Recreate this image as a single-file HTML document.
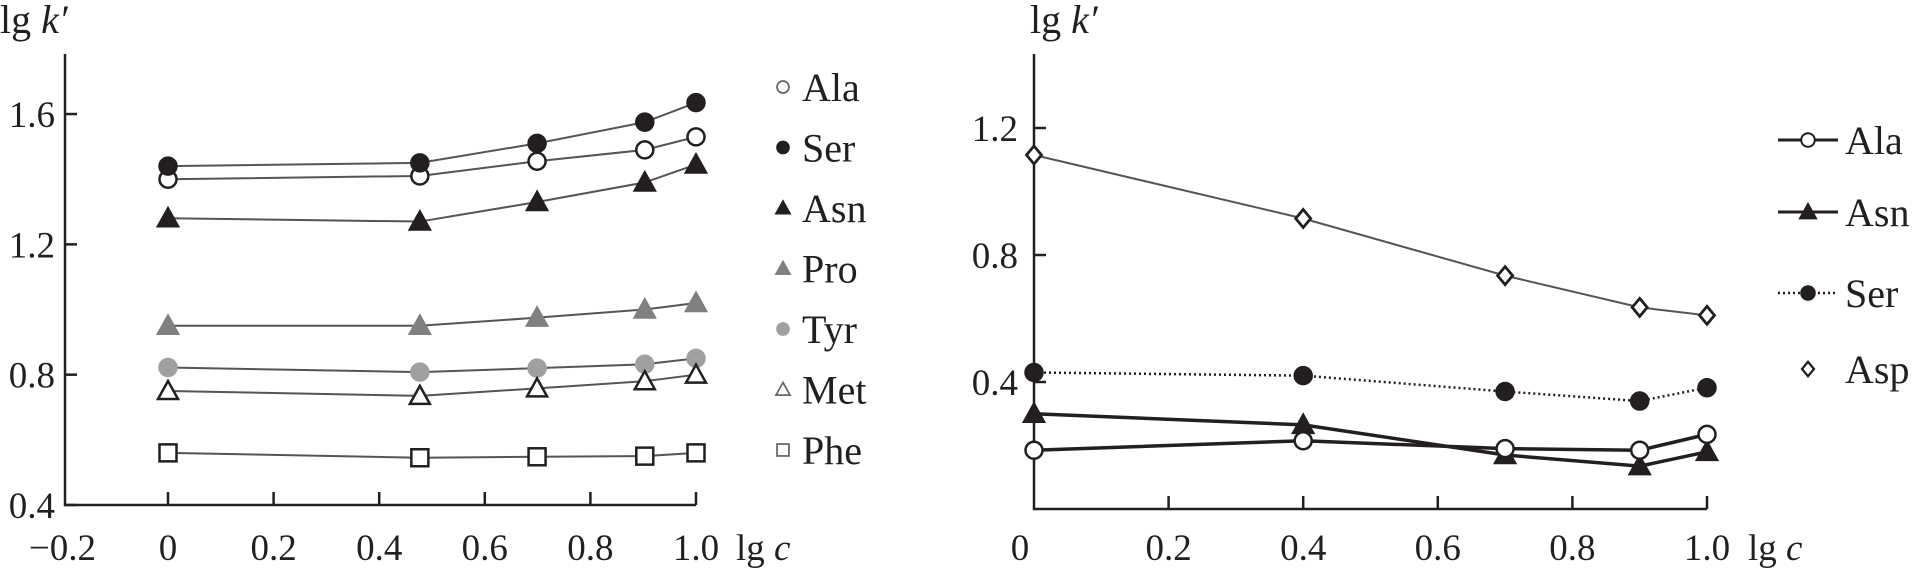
<!DOCTYPE html>
<html><head><meta charset="utf-8"><style>
body{margin:0;background:#fff;width:1912px;height:570px;overflow:hidden}
svg text{font-family:"Liberation Serif",serif;font-size:37px;fill:#231f20}
svg text.leg{font-size:40px}
</style></head><body>
<svg id="c" width="1912" height="570" xmlns="http://www.w3.org/2000/svg"></svg>
<script>
const xsL=[0,0.477,0.699,0.903,1.0];
const alaL=[1.40,1.41,1.455,1.49,1.53];
const serL=[1.44,1.45,1.51,1.575,1.635];
const asnL=[1.28,1.27,1.33,1.39,1.445];
const proL=[0.95,0.95,0.975,1.0,1.02];
const tyrL=[0.822,0.808,0.82,0.832,0.85];
const metL=[0.75,0.735,0.758,0.78,0.80];
const pheL=[0.56,0.545,0.548,0.55,0.56];
const xsR=[0.0,0.4,0.7,0.9,1.0];
const aspR=[1.115,0.915,0.735,0.635,0.61];
const serR=[0.43,0.42,0.37,0.34,0.382];
const asnR=[0.30,0.265,0.17,0.135,0.18];
const alaR=[0.185,0.215,0.19,0.185,0.235];
const xTicksL=[-0.2,0,0.2,0.4,0.6,0.8,1.0];
const xTickLabelsL=["\u22120.2","0","0.2","0.4","0.6","0.8","1.0"];
const yTicksL=[0.4,0.8,1.2,1.6];
const yTickLabelsL=["0.4","0.8","1.2","1.6"];
const xTicksR=[0,0.2,0.4,0.6,0.8,1.0];
const xTickLabelsR=["0","0.2","0.4","0.6","0.8","1.0"];
const yTicksR=[0.4,0.8,1.2];
const yTickLabelsR=["0.4","0.8","1.2"];

const NS="http://www.w3.org/2000/svg";
const svg=document.getElementById('c');
function mk(tag,attrs,parent){const e=document.createElementNS(NS,tag);for(const k in attrs)e.setAttribute(k,attrs[k]);(parent||svg).appendChild(e);return e;}
function txt(s,x,y,anchor,parent,cls){const t=mk('text',{x:x,y:y,'text-anchor':anchor||'start'},parent);if(cls)t.setAttribute('class',cls);t.innerHTML=s;return t;}

const xL=v=>168+(v-0)*528;
const yL=v=>505-(v-0.4)*325.8;
const xR=v=>1034+v*673;
const yR=v=>509-v*317.5;

function marker(g,type,x,y,fill,stroke){
  let e;
  if(type==='circle'){e=mk('circle',{cx:x,cy:y,r:8.5,fill:fill,stroke:stroke,'stroke-width':2.5},g);}
  else if(type==='tri'){e=mk('polygon',{points:`${x},${y-10} ${x-10},${y+8} ${x+10},${y+8}`,fill:fill,stroke:stroke,'stroke-width':2.5},g);}
  else if(type==='square'){e=mk('rect',{x:x-8.5,y:y-8.5,width:17,height:17,fill:fill,stroke:stroke,'stroke-width':2.5},g);}
  else if(type==='diamond'){e=mk('polygon',{points:`${x},${y-9} ${x+7.5},${y} ${x},${y+9} ${x-7.5},${y}`,fill:fill,stroke:stroke,'stroke-width':2.8},g);}
  return e;
}

// LEFT AXES
const axL=mk('g',{});


mk('path',{d:`M65,54 V${yL(0.4)} H${xL(1.0)}`,fill:'none',stroke:'#231f20','stroke-width':2.5},axL);
xTicksL.forEach((v,i)=>{
  if(v>-0.2) mk('line',{x1:xL(v),x2:xL(v),y1:yL(0.4),y2:yL(0.4)-13,stroke:'#231f20','stroke-width':2.5},axL);
  const t=txt(xTickLabelsL[i],xL(v),560,'middle',axL);
  
  
});
yTicksL.forEach((v,i)=>{
  mk('line',{x1:65,x2:77,y1:yL(v),y2:yL(v),stroke:'#231f20','stroke-width':2.5},axL);
  const t=txt(yTickLabelsL[i],55,yL(v)+13,'end',axL);
  
  
});
const ylabL=txt('lg <tspan font-style="italic">k′</tspan>',0,33,'start',null,'leg');


const xlabL=txt('lg <tspan font-style="italic">c</tspan>',736,560,'start');



const leftSeries=[
 ['Ala',alaL,'circle','#fff','#231f20'],
 ['Ser',serL,'circle','#231f20','#231f20'],
 ['Asn',asnL,'tri','#231f20','#231f20'],
 ['Pro',proL,'tri','#808080','#808080'],
 ['Tyr',tyrL,'circle','#a0a0a0','#a0a0a0'],
 ['Met',metL,'tri','#fff','#231f20'],
 ['Phe',pheL,'square','#fff','#231f20']
];
leftSeries.forEach((s,si)=>{
  const g=mk('g',{});
  
  
  const pts=xsL.map((x,i)=>xL(x)+','+yL(s[1][i])).join(' ');
  mk('polyline',{points:pts,fill:'none',stroke:'#555','stroke-width':2},g);
  xsL.forEach((x,i)=>{marker(g,s[2],xL(x),yL(s[1][i]),s[3],s[4]);});
  const lg=mk('g',{});
  
  
  const ly=87+si*60.5;
  const m=marker(lg,s[2],783,ly,s[3],s[3]==='#fff'?'#666':s[4]);
  m.setAttribute('transform',`translate(${783*0.3},${ly*0.3}) scale(0.7)`);
  txt(s[0],802,ly+14,'start',lg,'leg');
});

// RIGHT AXES
const axR=mk('g',{});


mk('path',{d:`M1034,54 V${yR(0)} H${xR(1.0)}`,fill:'none',stroke:'#231f20','stroke-width':2.5},axR);
xTicksR.forEach((v,i)=>{
  if(v>0) mk('line',{x1:xR(v),x2:xR(v),y1:yR(0),y2:yR(0)-13,stroke:'#231f20','stroke-width':2.5},axR);
  const t=txt(xTickLabelsR[i],v===0?xR(v)-14:xR(v),560,'middle',axR);
  
  
});
yTicksR.forEach((v,i)=>{
  mk('line',{x1:1034,x2:1046,y1:yR(v),y2:yR(v),stroke:'#231f20','stroke-width':2.5},axR);
  const t=txt(yTickLabelsR[i],1018,yR(v)+13,'end',axR);
  
  
});
const ylabR=txt('lg <tspan font-style="italic">k′</tspan>',1030,33,'start',null,'leg');


const xlabR=txt('lg <tspan font-style="italic">c</tspan>',1748,560,'start');



const rightSeries=[
 ['Asp',aspR,'diamond','#fff','#231f20','#555',2,null],
 ['Ser',serR,'circle','#231f20','#231f20','#231f20',2.5,'2,3'],
 ['Asn',asnR,'tri','#231f20','#231f20','#231f20',3.5,null],
 ['Ala',alaR,'circle','#fff','#231f20','#231f20',3.5,null]
];
rightSeries.forEach(s=>{
  const g=mk('g',{});
  
  
  const pts=xsR.map((x,i)=>xR(x)+','+yR(s[1][i])).join(' ');
  const a={points:pts,fill:'none',stroke:s[5],'stroke-width':s[6]};
  if(s[7])a['stroke-dasharray']=s[7];
  mk('polyline',a,g);
  xsR.forEach((x,i)=>{marker(g,s[2],xR(x),yR(s[1][i]),s[3],s[4]);});
});
const legR=[['Ala','circle','#fff',null,140],['Asn','tri','#231f20',null,212],['Ser','circle','#231f20','2,3',293],['Asp','diamond','#fff','none',369]];
legR.forEach(l=>{
  const g=mk('g',{});
  
  
  if(l[3]!=='none'){const a={x1:1778,x2:1838,y1:l[4],y2:l[4],stroke:'#231f20','stroke-width':l[3]?2.5:3};if(l[3])a['stroke-dasharray']=l[3];mk('line',a,g);}
  const m=marker(g,l[1],1808,l[4],l[2],'#231f20');
  m.setAttribute('transform',`translate(${1808*0.2},${l[4]*0.2}) scale(0.8)`);
  txt(l[0],1845,l[4]+14,'start',g,'leg');
});
</script>
</body></html>
